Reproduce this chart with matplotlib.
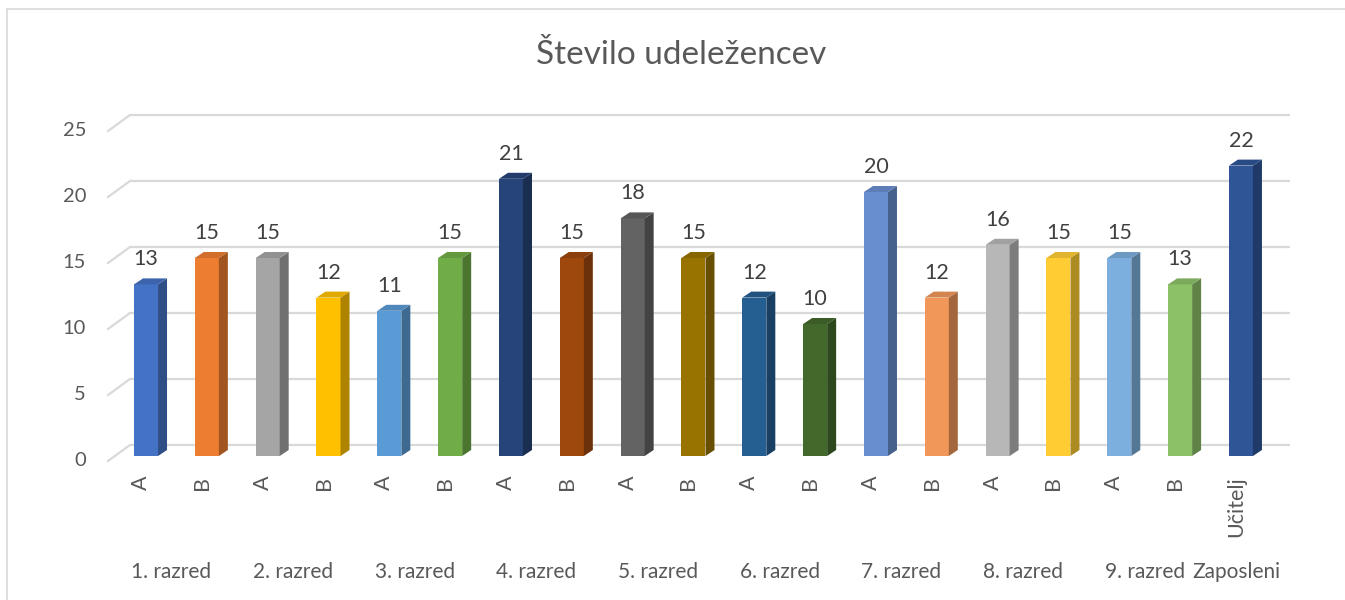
import matplotlib
matplotlib.use("Agg")
import matplotlib.pyplot as plt
from matplotlib.patches import Polygon
from matplotlib.transforms import ScaledTranslation

plt.rcParams['font.family'] = ['Lato', 'DejaVu Sans']

title = "Število udeležencev"
sub_labels = ["A", "B", "A", "B", "A", "B", "A", "B", "A", "B",
              "A", "B", "A", "B", "A", "B", "A", "B", "Učitelj"]
group_labels = ["1. razred", "2. razred", "3. razred", "4. razred", "5. razred",
                "6. razred", "7. razred", "8. razred", "9. razred", "Zaposleni"]
group_sizes = [2, 2, 2, 2, 2, 2, 2, 2, 2, 1]
values = [13, 15, 15, 12, 11, 15, 21, 15, 18, 15, 12, 10, 20, 12, 16, 15, 15, 13, 22]
front_colors = ["#4472C4", "#ED7D31", "#A5A5A5", "#FFC000", "#5B9BD5", "#70AD47",
                "#264478", "#9E480E", "#636363", "#997300", "#255E91", "#43682B",
                "#698ED0", "#F1975A", "#B7B7B7", "#FFCD33", "#7CAFDD", "#8CC168",
                "#2F5597"]
yticks = [0, 5, 10, 15, 20, 25]

W, H = 1345, 600
fig = plt.figure(figsize=(W / 100, H / 100), dpi=100)
fig.patch.set_facecolor("white")

# chart border (light gray)
fig.add_artist(plt.Line2D([7 / W, 7 / W], [0, 1 - 9 / H], color="#d9d9d9", lw=1.2,
                          transform=fig.transFigure))
fig.add_artist(plt.Line2D([7 / W, 1], [1 - 9 / H, 1 - 9 / H], color="#d9d9d9", lw=1.2,
                          transform=fig.transFigure))

# axes geometry in pixels
left_px, right_px = 108, 1268
bottom_px = H - 456
top_px = H - 126
ax = fig.add_axes([left_px / W, bottom_px / H, (right_px - left_px) / W, (top_px - bottom_px) / H])
x0, x1 = -0.625, 18.445
ax.set_xlim(x0, x1)
ax.set_ylim(0, 25)
ax.axis("off")

px_per_x = (right_px - left_px) / (x1 - x0)
px_per_y = (top_px - bottom_px) / 25.0


def off(dx, dy):
    return ax.transData + ScaledTranslation(dx / 100, dy / 100, fig.dpi_scale_trans)


grid_c = "#d9d9d9"
back = off(22, 11)
for t in yticks:
    ax.plot([x0, x1], [t, t], color=grid_c, lw=1.6, transform=back, clip_on=False, zorder=0,
            solid_capstyle="butt")
    # diagonal from front plane to back plane
    ax.plot([x0, x0 + 22 / px_per_x], [t - 5 / px_per_y, t + 11 / px_per_y], color=grid_c,
            lw=1.6, clip_on=False, zorder=0)
    ax.text(x0, t, str(t), transform=off(-22, -4), ha="right", va="center",
            fontsize=14.5, color="#595959", clip_on=False)


def darker(c, f):
    c = matplotlib.colors.to_rgb(c)
    return tuple(v * f for v in c)


w = 0.395
ddx = 9 / px_per_x
ddy = 6 / px_per_y
for i, (v, c) in enumerate(zip(values, front_colors)):
    xl, xr = i - w / 2, i + w / 2
    ax.bar(i, v, width=w, color=c, zorder=2, edgecolor="none")
    side = Polygon([(xr, 0), (xr, v), (xr + ddx, v + ddy), (xr + ddx, ddy)],
                   closed=True, facecolor=darker(c, 0.68), edgecolor="none", zorder=2)
    top = Polygon([(xl, v), (xr, v), (xr + ddx, v + ddy), (xl + ddx, v + ddy)],
                  closed=True, facecolor=darker(c, 0.88), edgecolor="none", zorder=2)
    ax.add_patch(side)
    ax.add_patch(top)
    ax.text(i, v, str(v), transform=off(0, 25), ha="center", va="center",
            fontsize=15.5, color="#404040", clip_on=False)
    ax.text(i, 0, sub_labels[i], transform=off(-5, -20), ha="center", va="top",
            rotation=90, fontsize=15.5, color="#595959", clip_on=False)

start = 0
for g, n in zip(group_labels, group_sizes):
    center = start + (n - 1) / 2
    ax.text(center, 0, g, transform=off(-5, -116), ha="center", va="center",
            fontsize=15, color="#595959", clip_on=False)
    start += n

fig.text(681 / W, 1 - 55 / H, title, ha="center", va="center", fontsize=24, color="#595959")

fig.savefig("out.png", dpi=100, facecolor="white")
